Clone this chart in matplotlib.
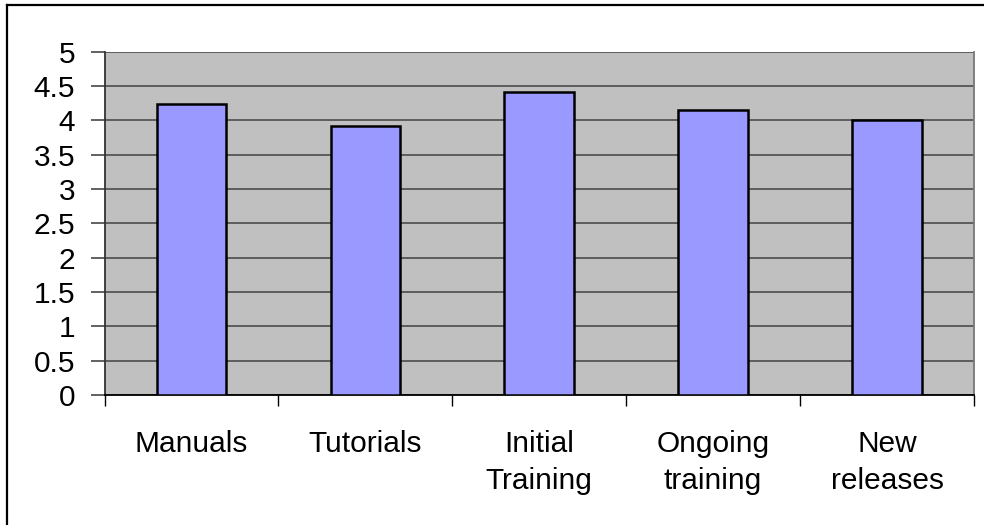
import matplotlib
matplotlib.use("Agg")
import matplotlib.pyplot as plt
from matplotlib.lines import Line2D
import numpy as np

categories = ["Manuals", "Tutorials", "Initial\nTraining", "Ongoing\ntraining", "New\nreleases"]
scores = [4.24, 3.92, 4.41, 4.15, 4.00]
yticks = [0, 0.5, 1, 1.5, 2, 2.5, 3, 3.5, 4, 4.5, 5]
ytick_labels = ["0", "0.5", "1", "1.5", "2", "2.5", "3", "3.5", "4", "4.5", "5"]

plt.rcParams["font.family"] = ["Liberation Sans", "DejaVu Sans"]

fig = plt.figure(figsize=(9.84, 5.25), dpi=100)
ax = fig.add_axes([0.1062, 0.2476, 0.8836, 0.6539])
ax.set_facecolor("#c0c0c0")

x = np.arange(len(categories))
ax.bar(x, scores, width=0.4, color="#9999ff", edgecolor="black", linewidth=1.8, zorder=3)

ax.set_xlim(-0.5, len(categories) - 0.5)
ax.set_ylim(0, 5)
ax.set_yticks(yticks)
ax.set_yticklabels(ytick_labels, fontsize=21.5)
ax.yaxis.grid(True, color="#555555", linewidth=1.3, zorder=1)
ax.set_axisbelow(True)

# category boundaries get the tick marks, labels sit at bar centres
ax.set_xticks(np.arange(len(categories) + 1) - 0.5)
ax.set_xticklabels([])
ax.set_xticks(x, minor=True)
ax.set_xticklabels(categories, minor=True, fontsize=21.5, linespacing=1.42, va="top")
ax.tick_params(axis="x", which="major", direction="out", length=8, width=1, color="black")
ax.tick_params(axis="x", which="minor", length=0, pad=25)
ax.tick_params(axis="y", direction="out", length=10, width=1.3, color="#555555", pad=11)

ax.spines["top"].set_visible(False)
ax.spines["right"].set_color("#777777")
ax.spines["right"].set_linewidth(1.3)
ax.spines["left"].set_color("#333333")
ax.spines["left"].set_linewidth(1.3)
ax.spines["bottom"].set_color("black")
ax.spines["bottom"].set_linewidth(1.3)

# outer frame, only its top and left edges fall inside the image
W, H = 984, 525
fig.add_artist(Line2D([7 / W, 7 / W], [0, 1 - 5 / H], color="black", linewidth=1.6))
fig.add_artist(Line2D([7 / W, 1], [1 - 5 / H, 1 - 5 / H], color="black", linewidth=1.6))

fig.savefig("out.png", dpi=100)
